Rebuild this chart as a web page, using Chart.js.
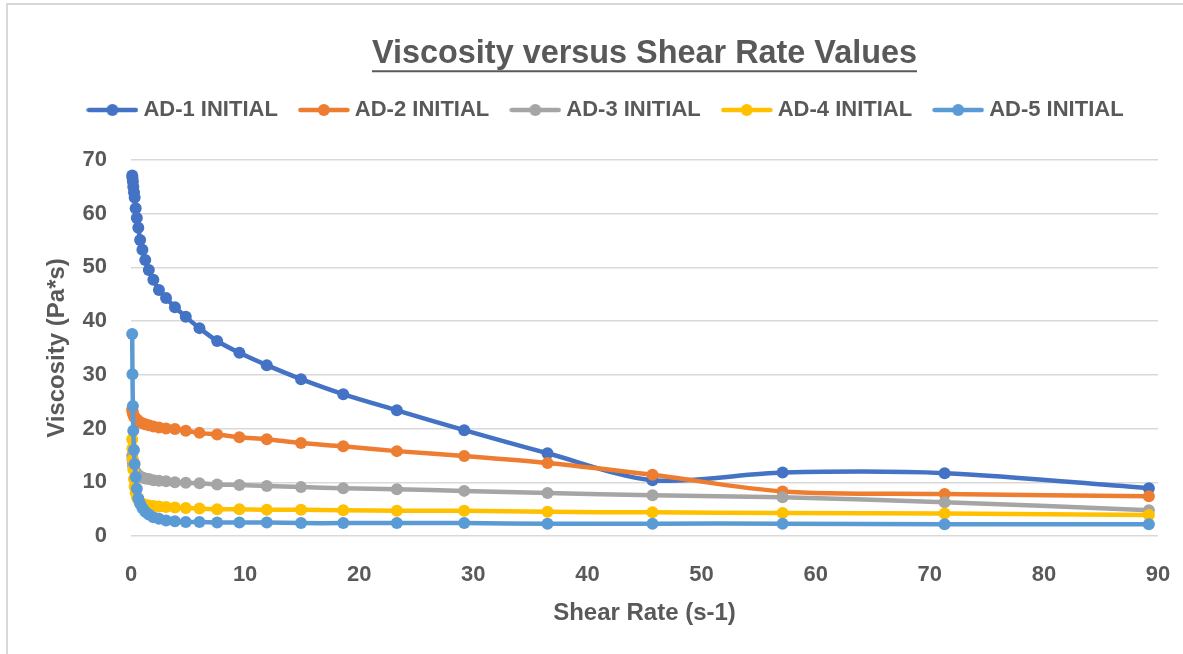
<!DOCTYPE html>
<html>
<head>
<meta charset="utf-8">
<script src="https://cdn.jsdelivr.net/npm/chart.js@4.4.1/dist/chart.umd.min.js"></script>
<style>
  html, body { margin: 0; padding: 0; background: #ffffff; }
  #wrap { width: 1183px; height: 654px; }
</style>
</head>
<body>
<div id="wrap"><canvas id="c" width="1183" height="654"></canvas></div>
<script>
// ---- Data ----
const chartTitle = 'Viscosity versus Shear Rate Values';
const xAxisTitle = 'Shear Rate (s-1)';
const yAxisTitle = 'Viscosity (Pa*s)';
const seriesNames = ['AD-1 INITIAL', 'AD-2 INITIAL', 'AD-3 INITIAL', 'AD-4 INITIAL', 'AD-5 INITIAL'];
const seriesColors = ['#4472C4', '#ED7D31', '#A5A5A5', '#FFC000', '#5B9BD5'];

const shearRate = [0.105, 0.13, 0.165, 0.2, 0.26, 0.32, 0.41, 0.51, 0.64, 0.8, 1.0, 1.25, 1.56, 1.96, 2.45, 3.07,
  3.85, 4.8, 6.0, 7.55, 9.5, 11.9, 14.9, 18.6, 23.3, 29.2, 36.5, 45.7, 57.1, 71.3, 89.2];

const ad1 = [67.1, 66.7, 66.0, 65.0, 64.0, 63.0, 61.0, 59.2, 57.4, 55.1, 53.3, 51.4, 49.5, 47.7, 45.8, 44.3,
  42.6, 40.8, 38.7, 36.3, 34.1, 31.8, 29.2, 26.4, 23.4, 19.7, 15.4, 10.4, 11.8, 11.7, 8.9];
const ad2 = [23.6, 23.2, 22.9, 22.6, 22.3, 22.1, 21.9, 21.7, 21.4, 21.2, 21.0, 20.8, 20.6, 20.4, 20.2, 20.0,
  19.9, 19.6, 19.2, 18.9, 18.4, 18.0, 17.3, 16.7, 15.8, 14.9, 13.6, 11.4, 8.3, 7.8, 7.4];
const ad3 = [15.0, 14.2, 13.5, 13.0, 12.6, 12.2, 11.9, 11.6, 11.3, 11.1, 10.9, 10.7, 10.6, 10.4, 10.3, 10.2,
  10.0, 9.9, 9.8, 9.6, 9.5, 9.3, 9.1, 8.9, 8.7, 8.4, 8.0, 7.6, 7.2, 6.3, 4.8];
const ad4 = [18.0, 16.3, 14.3, 12.4, 10.6, 9.2, 8.1, 7.3, 6.7, 6.3, 6.0, 5.8, 5.7, 5.6, 5.5, 5.4,
  5.3, 5.2, 5.1, 5.0, 5.0, 4.9, 4.9, 4.8, 4.7, 4.7, 4.5, 4.4, 4.3, 4.2, 3.9];
const ad5 = [37.6, 30.1, 24.2, 19.6, 16.0, 13.4, 11.0, 8.8, 7.0, 6.0, 5.2, 4.5, 4.0, 3.5, 3.2, 2.9,
  2.75, 2.6, 2.6, 2.5, 2.5, 2.5, 2.4, 2.4, 2.4, 2.4, 2.3, 2.3, 2.3, 2.2, 2.2];

const xTicks = [0, 10, 20, 30, 40, 50, 60, 70, 80, 90];
const yTicks = [0, 10, 20, 30, 40, 50, 60, 70];

// ---- Styling ----
const FONT = "'Liberation Sans', Arial, sans-serif";
const TEXT = '#595959';
const GRID = '#D9D9D9';

const seriesValues = [ad1, ad2, ad3, ad4, ad5];

function legendIcon(color) {
  const c = document.createElement('canvas');
  c.width = 52; c.height = 14;
  const g = c.getContext('2d');
  g.strokeStyle = color; g.lineWidth = 4.5; g.lineCap = 'round';
  g.beginPath(); g.moveTo(2.5, 7); g.lineTo(49.5, 7); g.stroke();
  g.fillStyle = color;
  g.beginPath(); g.arc(26, 7, 6, 0, Math.PI * 2); g.fill();
  return c;
}
const legendIcons = seriesColors.map(legendIcon);

const datasets = seriesNames.map((name, i) => ({
  label: name,
  data: shearRate.map((x, k) => ({ x: x, y: seriesValues[i][k] })),
  borderColor: seriesColors[i],
  backgroundColor: seriesColors[i],
  borderWidth: 4.5,
  borderCapStyle: 'round',
  borderJoinStyle: 'round',
  pointRadius: 6,
  pointHoverRadius: 6,
  pointBorderWidth: 0,
  pointBackgroundColor: seriesColors[i],
  tension: 0.3,
  clip: false,
  order: seriesNames.length - i
}));

const frame = {
  id: 'frame',
  beforeDraw(chart) {
    const ctx = chart.ctx;
    ctx.save();
    ctx.fillStyle = '#ffffff';
    ctx.fillRect(0, 0, chart.width, chart.height);
    ctx.strokeStyle = GRID;
    ctx.lineWidth = 2;
    ctx.strokeRect(7, 4, chart.width + 20, chart.height + 20);
    ctx.restore();
  }
};

const legendSpacer = {
  id: 'legendSpacer',
  beforeLayout(chart) {
    const lg = chart.legend;
    if (lg && !lg._spacerPatched) {
      const fit = lg.fit;
      lg.fit = function () { fit.call(this); this.height += 29; };
      lg._spacerPatched = true;
    }
  }
};

const titleUnderline = {
  id: 'titleUnderline',
  afterDraw(chart) {
    const t = chart.titleBlock;
    if (!t) return;
    const ctx = chart.ctx;
    ctx.save();
    ctx.font = 'bold 32.4px ' + FONT;
    const w = ctx.measureText(chartTitle).width;
    const cx = (t.left + t.right) / 2;
    const cy = t.top + 38 + 16.2;
    ctx.strokeStyle = TEXT;
    ctx.lineWidth = 2;
    ctx.beginPath();
    ctx.moveTo(cx - w / 2, cy + 17);
    ctx.lineTo(cx + w / 2, cy + 17);
    ctx.stroke();
    ctx.restore();
  }
};

new Chart(document.getElementById('c'), {
  type: 'line',
  data: { datasets: datasets },
  plugins: [frame, legendSpacer, titleUnderline],
  options: {
    responsive: false,
    animation: false,
    events: [],
    layout: { padding: { left: 58, right: 25, top: 0, bottom: 0 } },
    plugins: {
      tooltip: { enabled: false },
      title: {
        display: true,
        text: chartTitle,
        color: TEXT,
        fullSize: false,
        font: { family: FONT, size: 32.4, weight: 'bold', lineHeight: 1 },
        padding: { top: 38, bottom: 2.6 }
      },
      legend: {
        display: true,
        position: 'top',
        align: 'center',
        labels: {
          usePointStyle: true,
          pointStyleWidth: 40,
          padding: 26,
          color: TEXT,
          font: { family: FONT, size: 22, weight: 'bold' },
          generateLabels(chart) {
            return chart.data.datasets.map((ds, i) => ({
              text: ds.label,
              fillStyle: ds.borderColor,
              strokeStyle: ds.borderColor,
              lineWidth: 0,
              hidden: false,
              datasetIndex: i,
              pointStyle: legendIcons[i],
              fontColor: TEXT
            }));
          }
        }
      }
    },
    scales: {
      x: {
        type: 'linear',
        min: xTicks[0],
        max: xTicks[xTicks.length - 1],
        afterBuildTicks(scale) { scale.ticks = xTicks.map(v => ({ value: v })); },
        afterFit(scale) { scale.height = 118; },
        grid: { display: true, drawOnChartArea: false, drawTicks: true, tickLength: 23, color: 'rgba(0,0,0,0)' },
        border: { display: false },
        ticks: {
          color: TEXT,
          padding: 3,
          maxRotation: 0,
          autoSkip: false,
          font: { family: FONT, size: 22, weight: 'bold' }
        },
        title: {
          display: true,
          text: xAxisTitle,
          color: TEXT,
          font: { family: FONT, size: 24, weight: 'bold', lineHeight: 1 },
          padding: { top: 0, bottom: 29 }
        }
      },
      y: {
        type: 'linear',
        min: yTicks[0],
        max: yTicks[yTicks.length - 1],
        afterBuildTicks(scale) { scale.ticks = yTicks.map(v => ({ value: v })); },
        afterFit(scale) { scale.width = 73; },
        grid: { color: GRID, lineWidth: 1.5, drawTicks: false },
        border: { display: false },
        ticks: {
          color: TEXT,
          padding: 24,
          font: { family: FONT, size: 22, weight: 'bold' }
        },
        title: {
          display: true,
          text: yAxisTitle,
          color: TEXT,
          font: { family: FONT, size: 24, weight: 'bold', lineHeight: 1 },
          padding: { top: -13, bottom: 0 }
        }
      }
    }
  }
});
</script>
</body>
</html>
